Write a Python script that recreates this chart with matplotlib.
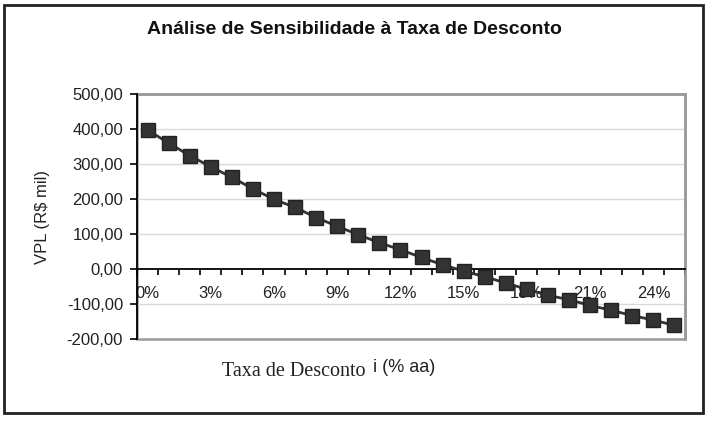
import matplotlib
matplotlib.use("Agg")
import matplotlib.pyplot as plt
from matplotlib.patches import Rectangle
from matplotlib.ticker import FuncFormatter, FixedLocator
import numpy as np

# taxa de desconto (% aa) e VPL (R$ mil)
taxas = list(range(0, 26))
vpl = [397, 360, 324, 292, 262, 229, 199, 176, 147, 122, 98, 75, 55,
       33, 12, -6, -22, -40, -58, -75, -88, -104, -118, -133, -146, -161]
label_taxas = list(range(0, 25, 3))
yticks = [-200, -100, 0, 100, 200, 300, 400, 500]

title = "Análise de Sensibilidade à Taxa de Desconto"

plt.rcParams['font.family'] = ['Liberation Sans', 'DejaVu Sans']

fig = plt.figure(figsize=(7.18, 4.24), dpi=100)
fig.patches.append(Rectangle((4 / 718, 1 - 413 / 424), 699 / 718, 408 / 424,
                             transform=fig.transFigure, fill=False,
                             edgecolor='#222222', linewidth=2))

ax = fig.add_axes([137 / 718, 1 - 339 / 424, 548 / 718, 245 / 424])

x = np.arange(len(taxas))
ax.plot(x, vpl, color='#333333', linewidth=2, marker='s', markersize=9.5,
        markerfacecolor='#333333', markeredgecolor='#222222', zorder=5,
        clip_on=False)

ax.set_xlim(-0.5, len(taxas) - 0.5)
ax.set_ylim(-200, 500)

# grade horizontal
for v in yticks:
    if v not in (0, -200, 500):
        ax.axhline(v, color='#d9d9d9', linewidth=1, zorder=1)

# eixo x passando pelo zero
ax.spines['bottom'].set_position(('data', 0))
ax.spines['bottom'].set_color('black')
ax.spines['bottom'].set_linewidth(1.3)
ax.spines['left'].set_color('black')
ax.spines['left'].set_linewidth(1.3)
ax.spines['left'].set_zorder(3)
for s in ('top', 'right'):
    ax.spines[s].set_color('#999999')
    ax.spines[s].set_linewidth(1.8)
ax.add_patch(Rectangle((0, 0), 1, 1, transform=ax.transAxes, fill=False,
                       edgecolor='#999999', linewidth=1.8, zorder=0,
                       clip_on=False))

ax.xaxis.set_major_locator(FixedLocator(np.arange(-0.5, len(taxas), 1.0)))
ax.xaxis.set_minor_locator(FixedLocator([taxas.index(t) for t in label_taxas]))
ax.xaxis.set_major_formatter(FuncFormatter(lambda v, p: ""))
ax.xaxis.set_minor_formatter(FuncFormatter(lambda v, p: f"{int(round(v))}%"))
ax.tick_params(axis='x', which='major', direction='out', length=4,
               width=1.2, color='black')
ax.tick_params(axis='x', which='minor', length=0, pad=12, labelsize=12,
               labelcolor='#222222')

ax.set_yticks(yticks)
ax.yaxis.set_major_formatter(
    FuncFormatter(lambda v, p: f"{v:.2f}".replace('.', ',')))
ax.tick_params(axis='y', direction='out', length=5, width=1.2,
               labelsize=12, labelcolor='#222222', pad=5)

ax.set_ylabel(r"VPL (R\$ mil)", fontsize=12, color='#222222', labelpad=12)

fig.text(354 / 718, 1 - 30 / 424, title, ha='center', va='center',
         fontsize=14, fontweight='bold', color='#111111')
fig.text(365 / 718, 1 - 371 / 424, "Taxa de Desconto", ha='right',
         va='center', fontsize=14.5, family='Liberation Serif',
         color='#222222')
fig.text(373 / 718, 1 - 368 / 424, "i (% aa)", ha='left', va='center',
         fontsize=13, color='#222222')

fig.savefig("out.png", dpi=100)
